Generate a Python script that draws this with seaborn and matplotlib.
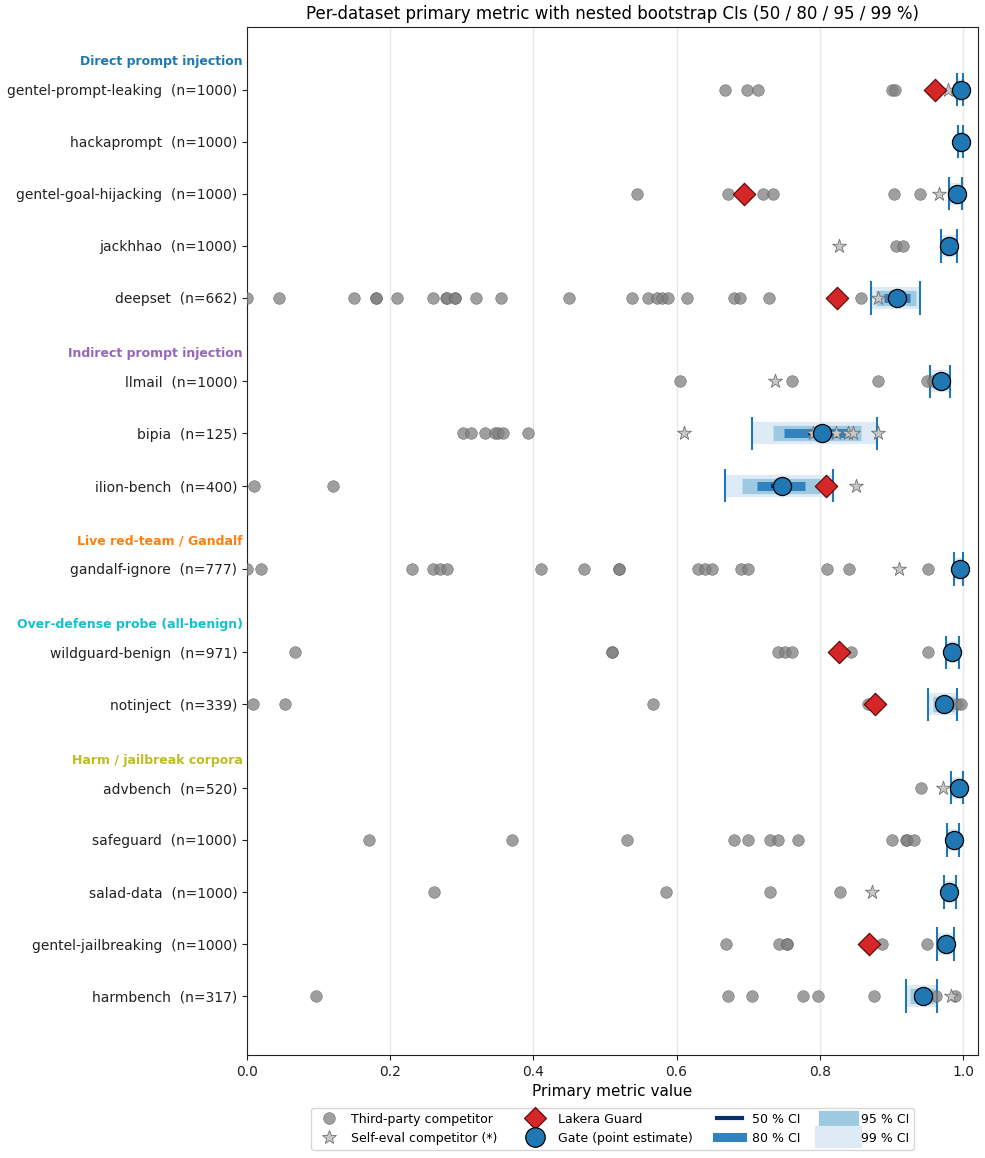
import numpy as np
import pandas as pd
import matplotlib
matplotlib.use("Agg")
import matplotlib.pyplot as plt
import matplotlib.transforms as mtransforms
from matplotlib.lines import Line2D
import seaborn as sns

# ---------------- data ----------------
group_names = ["Direct prompt injection", "Indirect prompt injection",
               "Live red-team / Gandalf", "Over-defense probe (all-benign)",
               "Harm / jailbreak corpora"]
group_colors = ["#1f77b4", "#9467bd", "#ff7f0e", "#17becf", "#bcbd22"]
group_members = [
    ["gentel-prompt-leaking", "hackaprompt", "gentel-goal-hijacking", "jackhhao", "deepset"],
    ["llmail", "bipia", "ilion-bench"],
    ["gandalf-ignore"],
    ["wildguard-benign", "notinject"],
    ["advbench", "safeguard", "salad-data", "gentel-jailbreaking", "harmbench"],
]
n_samples = {
    "gentel-prompt-leaking": 1000, "hackaprompt": 1000, "gentel-goal-hijacking": 1000,
    "jackhhao": 1000, "deepset": 662, "llmail": 1000, "bipia": 125, "ilion-bench": 400,
    "gandalf-ignore": 777, "wildguard-benign": 971, "notinject": 339, "advbench": 520,
    "safeguard": 1000, "salad-data": 1000, "gentel-jailbreaking": 1000, "harmbench": 317,
}

gate_point = {
    "gentel-prompt-leaking": 0.997, "hackaprompt": 0.997, "gentel-goal-hijacking": 0.991,
    "jackhhao": 0.981, "deepset": 0.908, "llmail": 0.970, "bipia": 0.803,
    "ilion-bench": 0.747, "gandalf-ignore": 0.996, "wildguard-benign": 0.985,
    "notinject": 0.973, "advbench": 0.995, "safeguard": 0.987, "salad-data": 0.981,
    "gentel-jailbreaking": 0.976, "harmbench": 0.944,
}
ci99 = {
    "gentel-prompt-leaking": (0.991, 1.000), "hackaprompt": (0.993, 1.000),
    "gentel-goal-hijacking": (0.981, 0.999), "jackhhao": (0.969, 0.991),
    "deepset": (0.872, 0.940), "llmail": (0.954, 0.982), "bipia": (0.706, 0.880),
    "ilion-bench": (0.667, 0.818), "gandalf-ignore": (0.987, 1.000),
    "wildguard-benign": (0.976, 0.995), "notinject": (0.951, 0.992),
    "advbench": (0.983, 1.000), "safeguard": (0.977, 0.995), "salad-data": (0.973, 0.990),
    "gentel-jailbreaking": (0.964, 0.987), "harmbench": (0.921, 0.964),
}
ci95 = {
    "gentel-prompt-leaking": (0.993, 1.000), "hackaprompt": (0.994, 1.000),
    "gentel-goal-hijacking": (0.983, 0.997), "jackhhao": (0.972, 0.989),
    "deepset": (0.879, 0.934), "llmail": (0.958, 0.980), "bipia": (0.735, 0.858),
    "ilion-bench": (0.692, 0.800), "gandalf-ignore": (0.989, 0.999),
    "wildguard-benign": (0.978, 0.992), "notinject": (0.958, 0.988),
    "advbench": (0.986, 0.999), "safeguard": (0.979, 0.993), "salad-data": (0.975, 0.988),
    "gentel-jailbreaking": (0.966, 0.985), "harmbench": (0.926, 0.959),
}
ci80 = {
    "gentel-prompt-leaking": (0.995, 0.999), "hackaprompt": (0.995, 0.999),
    "gentel-goal-hijacking": (0.986, 0.995), "jackhhao": (0.976, 0.986),
    "deepset": (0.889, 0.926), "llmail": (0.962, 0.977), "bipia": (0.750, 0.839),
    "ilion-bench": (0.712, 0.780), "gandalf-ignore": (0.992, 0.998),
    "wildguard-benign": (0.981, 0.990), "notinject": (0.963, 0.983),
    "advbench": (0.989, 0.998), "safeguard": (0.982, 0.991), "salad-data": (0.977, 0.985),
    "gentel-jailbreaking": (0.970, 0.982), "harmbench": (0.932, 0.954),
}
ci50 = {
    "gentel-prompt-leaking": (0.996, 0.998), "hackaprompt": (0.996, 0.998),
    "gentel-goal-hijacking": (0.988, 0.993), "jackhhao": (0.978, 0.984),
    "deepset": (0.899, 0.917), "llmail": (0.966, 0.974), "bipia": (0.783, 0.823),
    "ilion-bench": (0.732, 0.760), "gandalf-ignore": (0.994, 0.997),
    "wildguard-benign": (0.983, 0.988), "notinject": (0.968, 0.979),
    "advbench": (0.992, 0.997), "safeguard": (0.984, 0.989), "salad-data": (0.979, 0.983),
    "gentel-jailbreaking": (0.973, 0.979), "harmbench": (0.937, 0.950),
}
lakera = {
    "gentel-prompt-leaking": 0.961, "gentel-goal-hijacking": 0.694, "deepset": 0.824,
    "ilion-bench": 0.808, "wildguard-benign": 0.827, "notinject": 0.877,
    "gentel-jailbreaking": 0.869,
}
self_eval = {
    "gentel-prompt-leaking": [0.979], "gentel-goal-hijacking": [0.967],
    "jackhhao": [0.827], "deepset": [0.881], "llmail": [0.738],
    "bipia": [0.610, 0.790, 0.823, 0.839, 0.847, 0.881], "ilion-bench": [0.851],
    "gandalf-ignore": [0.910], "advbench": [0.972], "salad-data": [0.873],
    "harmbench": [0.983],
}
third_party = {
    "gentel-prompt-leaking": [0.668, 0.698, 0.714, 0.901, 0.905],
    "hackaprompt": [],
    "gentel-goal-hijacking": [0.544, 0.672, 0.721, 0.734, 0.904, 0.940],
    "jackhhao": [0.906, 0.916],
    "deepset": [0.0, 0.044, 0.150, 0.180, 0.180, 0.210, 0.260, 0.278, 0.280, 0.291,
                0.291, 0.320, 0.355, 0.450, 0.538, 0.560, 0.572, 0.579, 0.588, 0.615,
                0.680, 0.689, 0.729, 0.857],
    "llmail": [0.605, 0.761, 0.882, 0.950, 0.958],
    "bipia": [0.301, 0.313, 0.333, 0.346, 0.350, 0.358, 0.392],
    "ilion-bench": [0.010, 0.120],
    "gandalf-ignore": [0.0, 0.020, 0.230, 0.260, 0.269, 0.280, 0.410, 0.471, 0.520,
                       0.520, 0.630, 0.640, 0.650, 0.690, 0.700, 0.810, 0.841, 0.951],
    "wildguard-benign": [0.067, 0.510, 0.510, 0.741, 0.751, 0.761, 0.843, 0.951],
    "notinject": [0.009, 0.053, 0.567, 0.867, 0.991, 0.997],
    "advbench": [0.942],
    "safeguard": [0.170, 0.370, 0.531, 0.680, 0.700, 0.730, 0.741, 0.770, 0.901,
                  0.920, 0.922, 0.931],
    "salad-data": [0.261, 0.585, 0.731, 0.828],
    "gentel-jailbreaking": [0.669, 0.743, 0.754, 0.754, 0.887, 0.950],
    "harmbench": [0.097, 0.672, 0.705, 0.777, 0.797, 0.876, 0.962, 0.989],
}

ci_levels = ["99", "95", "80", "50"]
ci_colors = {"50": "#08306b", "80": "#3182bd", "95": "#9ecae1", "99": "#deebf7"}
ci_widths = {"50": 3, "80": 6.5, "95": 11, "99": 16}

# ---------------- layout (row positions) ----------------
row_gap, group_gap = 1.0, 1.6
ypos, yorder, header_pos = {}, [], []
cur = 0.0
for gi, members in enumerate(group_members):
    if gi > 0:
        cur += group_gap - row_gap
    header_pos.append(cur - 0.53)
    for m in members:
        ypos[m] = cur
        yorder.append(m)
        cur += row_gap

# ---------------- plot ----------------
sns.set_style("ticks", {"axes.edgecolor": "#222222", "text.color": "black",
                        "xtick.color": "#222222", "ytick.color": "#222222",
                        "axes.labelcolor": "black"})
plt.rcParams["font.family"] = ["DejaVu Sans"]
fig, ax = plt.subplots(figsize=(9.85, 11.58), dpi=100)
fig.subplots_adjust(left=0.2508, right=0.9929, top=0.9767, bottom=0.0889)

ax.grid(axis="x", color="#e6e6e6", lw=1, zorder=0)
ax.set_axisbelow(True)

ci_tables = {"99": ci99, "95": ci95, "80": ci80, "50": ci50}
for d in yorder:
    y = ypos[d]
    for i, k in enumerate(ci_levels):
        lo, hi = ci_tables[k][d]
        ax.hlines(y, lo, hi, color=ci_colors[k], lw=ci_widths[k], capstyle="butt",
                  zorder=1 + i * 0.1)
    lo, hi = ci99[d]
    ax.vlines([lo, hi], y - 0.32, y + 0.32, color="#1f77b4", lw=1.5, zorder=2.5)

tp = pd.DataFrame([(v, ypos[d]) for d in yorder for v in third_party.get(d, [])],
                  columns=["x", "y"])
se = pd.DataFrame([(v, ypos[d]) for d in yorder for v in self_eval.get(d, [])],
                  columns=["x", "y"])
lk = pd.DataFrame([(lakera[d], ypos[d]) for d in yorder if d in lakera],
                  columns=["x", "y"])
gt = pd.DataFrame([(gate_point[d], ypos[d]) for d in yorder], columns=["x", "y"])

sns.scatterplot(data=tp, x="x", y="y", ax=ax, color="#7f7f7f", alpha=0.75, s=70,
                edgecolor="#555555", linewidth=0.4, zorder=3)
sns.scatterplot(data=se, x="x", y="y", ax=ax, color="#c8c8c8", marker="*", s=110,
                edgecolor="#707070", linewidth=0.6, zorder=4)
sns.scatterplot(data=lk, x="x", y="y", ax=ax, color="#d62728", marker="D", s=130,
                edgecolor="#5a0000", linewidth=0.8, zorder=5)
sns.scatterplot(data=gt, x="x", y="y", ax=ax, color="#1f77b4", marker="o", s=170,
                edgecolor="black", linewidth=0.9, zorder=6)

ax.set_yticks([ypos[d] for d in yorder])
ax.set_yticklabels([f"{d}  (n={n_samples[d]})" for d in yorder], fontsize=10)
ax.set_ylim(cur - row_gap + 1.13, -1.2)
ax.set_xlim(0, 1.021)
ax.set_xlabel("Primary metric value", fontsize=11)
ax.set_ylabel("")
ax.set_title("Per-dataset primary metric with nested bootstrap CIs (50 / 80 / 95 / 99 %)",
             fontsize=12)
ax.tick_params(axis="x", labelsize=10)
for s in ax.spines.values():
    s.set_visible(True)

trans = mtransforms.blended_transform_factory(ax.transAxes, ax.transData)
for name, col, yh in zip(group_names, group_colors, header_pos):
    ax.text(-0.006, yh, name, transform=trans, ha="right", va="center",
            fontsize=9, fontweight="bold", color=col)

handles = [
    Line2D([], [], ls="", marker="o", color="#7f7f7f", alpha=0.75, markersize=8.5,
           markeredgecolor="#555555", markeredgewidth=0.4),
    Line2D([], [], ls="", marker="*", color="#c8c8c8", markersize=10,
           markeredgecolor="#707070", markeredgewidth=0.6),
    Line2D([], [], ls="", marker="D", color="#d62728", markersize=11,
           markeredgecolor="#5a0000", markeredgewidth=0.8),
    Line2D([], [], ls="", marker="o", color="#1f77b4", markersize=14,
           markeredgecolor="black", markeredgewidth=0.9),
]
for k in ["50", "80", "95", "99"]:
    handles.append(Line2D([], [], color=ci_colors[k], lw=ci_widths[k],
                          solid_capstyle="projecting"))
labels = ["Third-party competitor", "Self-eval competitor (*)", "Lakera Guard",
          "Gate (point estimate)", "50 % CI", "80 % CI", "95 % CI", "99 % CI"]
ax.legend(handles, labels, loc="upper center", bbox_to_anchor=(0.5, -0.045), ncol=4,
          fontsize=9, frameon=True)

fig.savefig("out.png", dpi=100)
